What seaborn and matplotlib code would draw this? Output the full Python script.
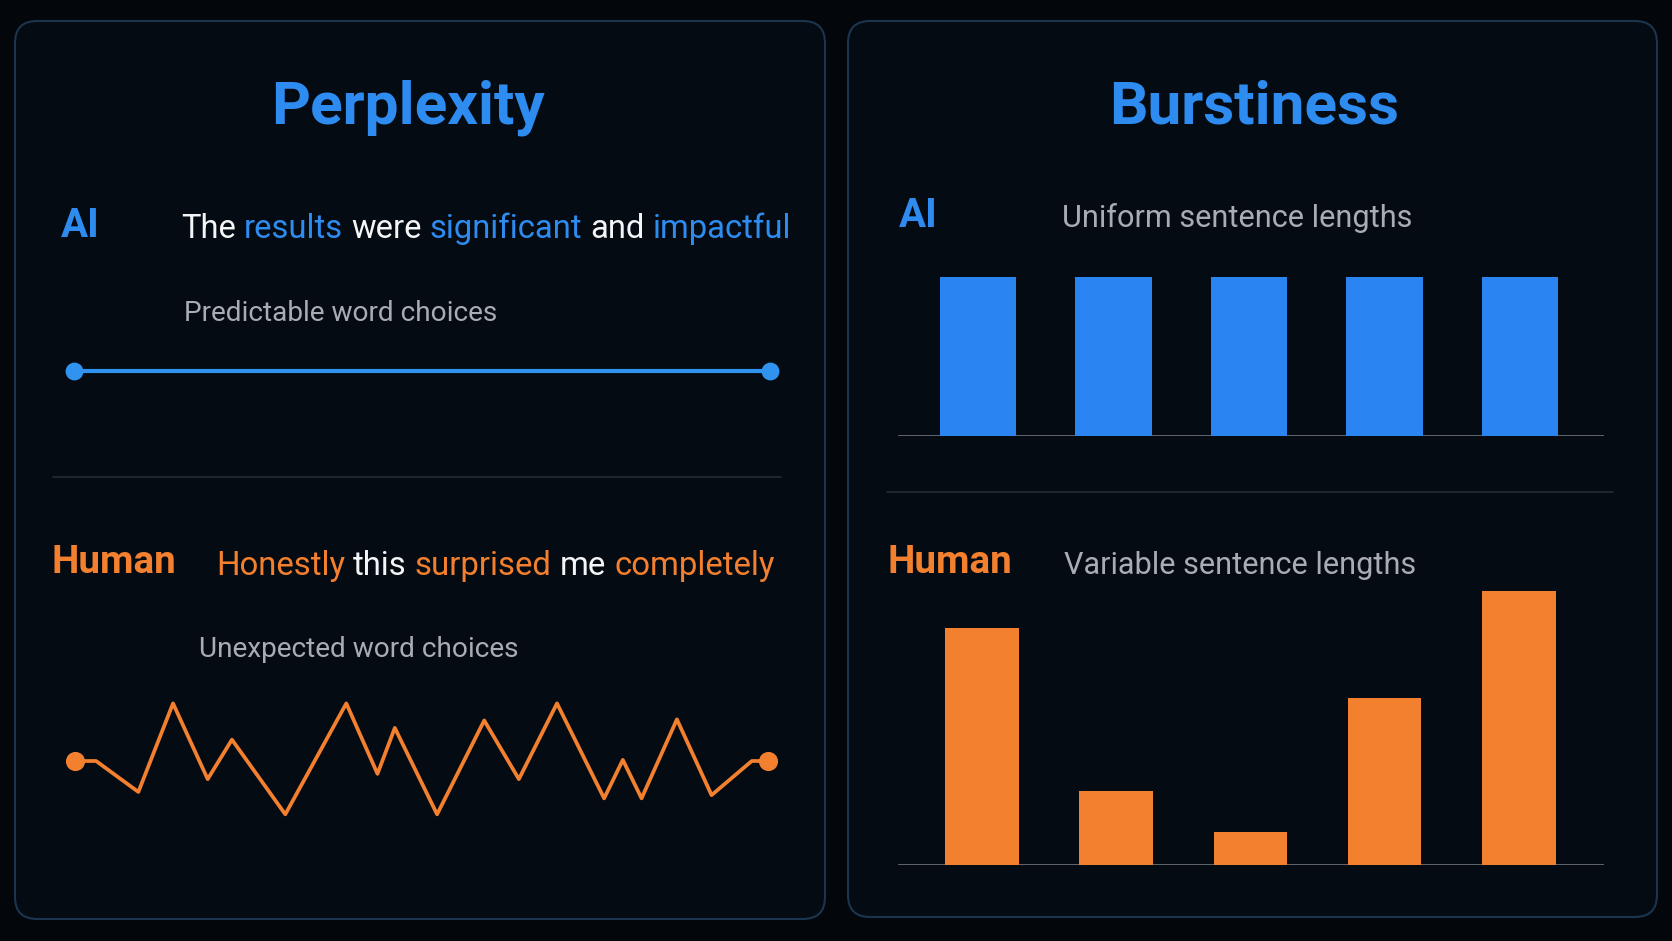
import numpy as np
import pandas as pd
import seaborn as sns
import matplotlib.pyplot as plt
from matplotlib.patches import FancyBboxPatch
from matplotlib.transforms import IdentityTransform

# --- DATEN ---
# Perplexity: "Ueberraschung" pro Wort (flach fuer AI, zackig fuer Human)
AI_LINE_X = [0, 100]
AI_LINE_Y = [0, 0]
HUMAN_LINE_X = [0, 3.1, 9.2, 14.2, 19.2, 22.7, 30.4, 39.2, 43.7, 46.2, 52.3,
                59.1, 64.1, 69.6, 76.4, 79.1, 81.8, 86.9, 91.9, 97.7, 100]
HUMAN_LINE_Y = [0, 0, -2.9, 5.4, -1.7, 2.0, -5.0, 5.4, -1.2, 3.1, -5.0,
                3.8, -1.7, 5.4, -3.5, 0.1, -3.5, 3.9, -3.2, 0, 0]

# Burstiness: Satzlaengen
SENTENCES = ["S1", "S2", "S3", "S4", "S5"]
AI_LENGTHS = [12, 12, 12, 12, 12]
HUMAN_LENGTHS = [17.9, 5.6, 2.5, 12.6, 20.7]

AI_SENTENCE = [("The", "w"), ("results", "b"), ("were", "w"), ("significant", "b"),
               ("and", "w"), ("impactful", "b")]
HUMAN_SENTENCE = [("Honestly", "o"), ("this", "w"), ("surprised", "o"),
                  ("me", "w"), ("completely", "o")]

# --- DESIGN ---
W, H = 1672, 941
BG = "#03060a"
PANEL = "#050b12"
EDGE = "#1b3550"
BLUE = "#2e8cf0"
BAR_BLUE = "#2a84f1"
LINE_BLUE = "#3093f0"
ORANGE = "#f3802e"
WHITE = "#f4f5f7"
GRAY = "#a9adb3"
LINE_GRAY = "#7c8188"
COLORS = {"w": WHITE, "b": BLUE, "o": ORANGE}
FONT = ["Roboto", "DejaVu Sans"]

sns.set_theme(style="white")
plt.rcParams["font.family"] = FONT

fig = plt.figure(figsize=(W / 100, H / 100), dpi=100, facecolor=BG)
renderer = fig.canvas.get_renderer()


def px_ax(x0, y0, x1, y1):
    """Axes in Pixel-Koordinaten (y von oben)."""
    ax = fig.add_axes([x0 / W, 1 - y1 / H, (x1 - x0) / W, (y1 - y0) / H])
    ax.set_facecolor("none")
    ax.set_axis_off()
    return ax


def txt(x, y, s, size, color, weight="normal", ha="left"):
    return fig.text(x / W, 1 - y / H, s, fontsize=size, color=color,
                    fontweight=weight, ha=ha, va="baseline")


def word_width(s, size):
    t = fig.text(0, 0, s, fontsize=size)
    w = t.get_window_extent(renderer).width
    t.remove()
    return w


def colored_sentence(x, y, words, size):
    space = word_width("x x", size) - word_width("xx", size)
    for w, c in words:
        t = txt(x, y, w, size, COLORS[c])
        x += t.get_window_extent(renderer).width + space


# Panels (hinter den Axes)
for x0, y0, x1, y1 in [(15, 21, 825, 919), (848, 21, 1657, 917)]:
    fig.add_artist(FancyBboxPatch((x0, H - y1), x1 - x0, y1 - y0,
                                  boxstyle="round,pad=0,rounding_size=22",
                                  transform=IdentityTransform(),
                                  facecolor=PANEL, edgecolor=EDGE, lw=1.5,
                                  zorder=-2))

# Trennlinien
fig.add_artist(plt.Line2D([53 / W, 781 / W], [1 - 477 / H] * 2, color="#262c34", lw=1.2, zorder=-1))
fig.add_artist(plt.Line2D([887 / W, 1613 / W], [1 - 492 / H] * 2, color="#262c34", lw=1.2, zorder=-1))

# --- LINKS: PERPLEXITY ---
txt(408, 124, "Perplexity", 43.5, BLUE, "bold", "center")
txt(61, 237, "AI", 29, BLUE, "bold")
colored_sentence(181, 238, AI_SENTENCE, 23.6)
txt(184, 321, "Predictable word choices", 20.2, GRAY)

ax = px_ax(73.6, 371 - 80, 769.9, 371 + 80)
sns.lineplot(x=AI_LINE_X, y=AI_LINE_Y, ax=ax, color=LINE_BLUE, lw=3.0)
ax.scatter([AI_LINE_X[0], AI_LINE_X[-1]], [AI_LINE_Y[0], AI_LINE_Y[-1]],
           s=165, color=LINE_BLUE, zorder=3, clip_on=False, linewidths=0)
ax.set_xlim(0, 100)
ax.set_ylim(-7.5, 7.5)

txt(51, 573, "Human", 27.8, ORANGE, "bold")
colored_sentence(216, 575, HUMAN_SENTENCE, 23.7)
txt(199, 657, "Unexpected word choices", 20.2, GRAY)

ax = px_ax(74.6, 761 - 80, 767.7, 761 + 80)
sns.lineplot(x=HUMAN_LINE_X, y=HUMAN_LINE_Y, ax=ax, color=ORANGE, lw=2.7, sort=False)
ax.scatter([HUMAN_LINE_X[0], HUMAN_LINE_X[-1]], [HUMAN_LINE_Y[0], HUMAN_LINE_Y[-1]],
           s=190, color=ORANGE, zorder=3, clip_on=False, linewidths=0)
ax.set_xlim(0, 100)
ax.set_ylim(-7.5, 7.5)

# --- RECHTS: BURSTINESS ---
txt(1254, 124, "Burstiness", 43.5, BLUE, "bold", "center")
txt(899, 227, "AI", 29, BLUE, "bold")
txt(1062, 227, "Uniform sentence lengths", 22.1, GRAY)
txt(887, 573, "Human", 27.8, ORANGE, "bold")
txt(1064, 574, "Variable sentence lengths", 22.1, GRAY)

PX_PER_UNIT = 13.24
bar_sets = [
    (436, 250, AI_LENGTHS, BAR_BLUE, 0.567, (-0.59, 4.62)),
    (865, 560, HUMAN_LENGTHS, ORANGE, 0.55, (-0.628, 4.636)),
]
for base_y, top_y, vals, col, width, xlim in bar_sets:
    ax = px_ax(898, top_y, 1604, base_y)
    df = pd.DataFrame({"sentence": SENTENCES, "length": vals})
    sns.barplot(data=df, x="sentence", y="length", color=col, width=width,
                saturation=1, linewidth=0, edgecolor=col, ax=ax)
    ax.axhline(0, color=LINE_GRAY, lw=1.8, zorder=0)
    ax.set_xlim(*xlim)
    ax.set_ylim(0, (base_y - top_y) / PX_PER_UNIT)
    ax.set_axis_off()

fig.savefig("out.png", dpi=100, facecolor=BG)
